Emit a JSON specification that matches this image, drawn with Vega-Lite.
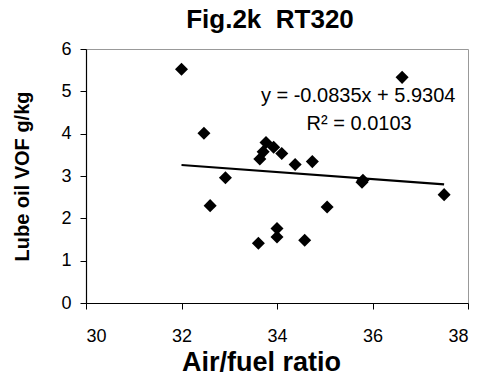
{
  "$schema": "https://vega.github.io/schema/vega-lite/v6.json",
  "width": 382,
  "height": 254,
  "autosize": "none",
  "padding": {"left": 86, "top": 49, "right": 11, "bottom": 72},
  "background": "white",
  "config": {
    "font": "Liberation Sans",
    "view": {"stroke": "#999999", "strokeWidth": 1},
    "title": {"font": "Liberation Sans", "fontSize": 26, "fontWeight": "bold", "color": "black", "anchor": "middle", "frame": "group", "offset": 7},
    "axis": {"grid": false, "domainColor": "black", "tickColor": "black", "labelColor": "black", "titleColor": "black", "labelFont": "Liberation Sans", "titleFont": "Liberation Sans", "labelFontSize": 18, "labelFontWeight": "normal", "tickSize": 6, "domainWidth": 1.2, "tickWidth": 1}
  },
  "title": {"text": "Fig.2k\u00a0 RT320", "fontSize": 26, "dx": -7},
  "layer": [
    {
      "data": {"values": [
        {"afr": 32.0, "vof": 5.52},
        {"afr": 32.47, "vof": 4.01},
        {"afr": 32.6, "vof": 2.30},
        {"afr": 32.92, "vof": 2.96},
        {"afr": 33.61, "vof": 1.41},
        {"afr": 33.64, "vof": 3.40},
        {"afr": 33.71, "vof": 3.57},
        {"afr": 33.77, "vof": 3.79},
        {"afr": 33.93, "vof": 3.68},
        {"afr": 34.1, "vof": 3.53},
        {"afr": 34.0, "vof": 1.76},
        {"afr": 34.0, "vof": 1.56},
        {"afr": 34.38, "vof": 3.27},
        {"afr": 34.58, "vof": 1.48},
        {"afr": 34.74, "vof": 3.34},
        {"afr": 35.05, "vof": 2.27},
        {"afr": 35.78, "vof": 2.85},
        {"afr": 35.8, "vof": 2.90},
        {"afr": 36.62, "vof": 5.33},
        {"afr": 37.5, "vof": 2.56}
      ]},
      "mark": {"type": "point", "shape": "diamond", "filled": true, "color": "black", "size": 170, "opacity": 1},
      "encoding": {
        "x": {"field": "afr", "type": "quantitative", "scale": {"domain": [30, 38], "nice": false, "zero": false},
              "axis": {"values": [30, 32, 34, 36, 38], "title": "Air/fuel ratio", "titleFontSize": 27, "titleFontWeight": "bold", "labelPadding": 18, "titleX": 175, "titleY": 67, "titleBaseline": "alphabetic", "titleAlign": "center"}},
        "y": {"field": "vof", "type": "quantitative", "scale": {"domain": [0, 6], "nice": false},
              "axis": {"values": [0, 1, 2, 3, 4, 5, 6], "title": "Lube oil VOF g/kg", "titleFontSize": 20, "titleFontWeight": "bold", "labelPadding": 9, "titlePadding": 28}}
      }
    },
    {
      "data": {"values": [
        {"afr": 32.0, "vof": 3.26},
        {"afr": 37.5, "vof": 2.80}
      ]},
      "mark": {"type": "line", "color": "black", "strokeWidth": 2.2},
      "encoding": {
        "x": {"field": "afr", "type": "quantitative"},
        "y": {"field": "vof", "type": "quantitative"}
      }
    },
    {
      "data": {"values": [
        {"label": "y = -0.0835x + 5.9304", "afr": 35.70, "vof": 4.90},
        {"label": "R² = 0.0103", "afr": 35.72, "vof": 4.24}
      ]},
      "mark": {"type": "text", "font": "Liberation Sans", "fontSize": 20, "color": "black", "align": "center", "baseline": "middle"},
      "encoding": {
        "x": {"field": "afr", "type": "quantitative"},
        "y": {"field": "vof", "type": "quantitative"},
        "text": {"field": "label"}
      }
    }
  ]
}
